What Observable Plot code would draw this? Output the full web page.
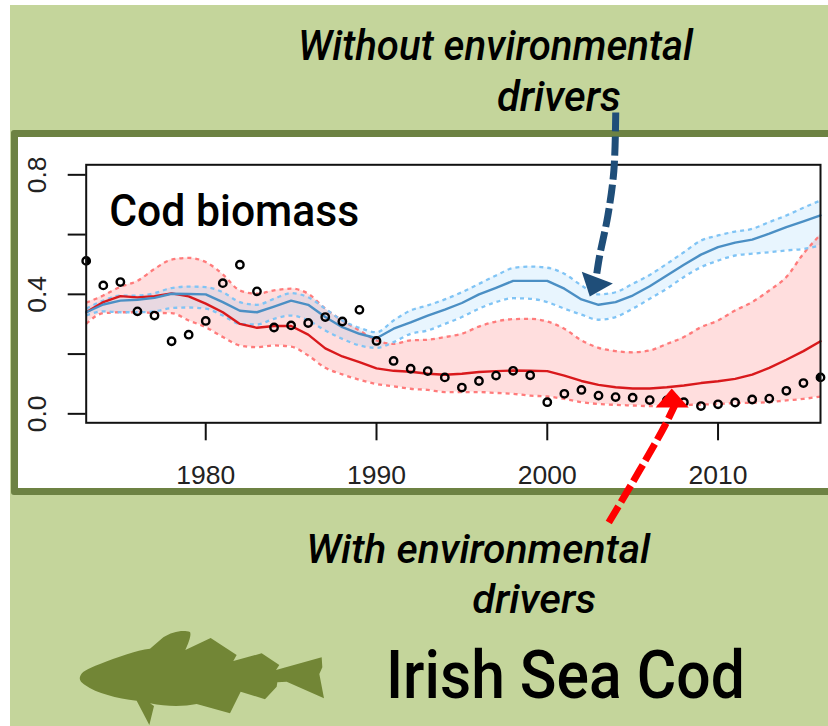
<!DOCTYPE html>
<html><head><meta charset="utf-8">
<script src="https://cdn.jsdelivr.net/npm/d3@7"></script>
<script src="https://cdn.jsdelivr.net/npm/@observablehq/plot@0.6"></script>
<style>
html,body{margin:0;padding:0;background:#fff;width:828px;height:726px;overflow:hidden}
#bg{position:absolute;left:10px;top:5px;width:818px;height:721px;background:#c4d59b}
#panel{position:absolute;left:10.5px;top:130px;width:830px;height:351px;background:#fff;border:7.5px solid #6d8243;border-radius:3px}
#fish{position:absolute;left:0;top:580px}
#chart{position:absolute;left:0;top:0}
#chart svg{background:transparent;display:block}
</style></head><body>
<div id="bg"></div><div id="panel"></div>
<svg id="fish" width="400" height="146" viewBox="0 0 1200 438"><path fill="#728636" d="M240 290C245 275 260 268 300 252C350 232 410 210 450 206L490 172C515 155 550 148 570 156C575 165 565 190 556 210L632 174L710 225L700 243L785 220L838 255L828 270L965 232L967 262L958 282L972 355L860 305L832 307L830 320L795 358L722 335L690 400L590 372C550 380 500 380 450 370L462 378L448 435L410 362C350 355 290 340 255 315C240 305 238 298 240 290Z"/></svg>
<div id="chart"></div>
<script>
const years = d3.range(1973, 2017);
const redMid = [.34,.374,.394,.39,.394,.403,.393,.369,.34,.301,.288,.294,.294,.265,.219,.192,.173,.152,.144,.141,.134,.131,.134,.14,.143,.145,.144,.143,.128,.11,.097,.089,.085,.085,.089,.095,.103,.109,.117,.131,.154,.181,.21,.243];
const redUp = [.372,.396,.425,.445,.485,.516,.522,.508,.467,.413,.402,.413,.419,.402,.352,.3125,.279,.246,.234,.246,.248,.257,.268,.292,.309,.317,.318,.309,.285,.246,.221,.21,.206,.212,.234,.257,.29,.3125,.346,.374,.413,.458,.536,.60];
const redLow = [.301,.337,.34,.34,.338,.337,.3125,.29,.257,.229,.223,.229,.225,.195,.154,.132,.114,.10,.092,.084,.08,.073,.073,.073,.07,.067,.061,.058,.05,.039,.033,.03,.028,.026,.028,.03,.031,.033,.036,.037,.039,.045,.05,.058];
const blueMid = [.34,.366,.379,.382,.388,.402,.401,.40,.374,.345,.34,.359,.379,.365,.324,.29,.268,.253,.285,.306,.329,.349,.371,.40,.422,.445,.445,.445,.419,.383,.365,.374,.396,.427,.463,.499,.533,.558,.573,.583,.603,.625,.644,.664];
const blueUp = [.352,.379,.396,.396,.404,.421,.426,.424,.407,.374,.365,.385,.404,.39,.352,.3125,.288,.273,.3125,.346,.363,.383,.407,.435,.463,.488,.493,.489,.469,.43,.40,.407,.435,.465,.502,.541,.58,.597,.61,.619,.642,.664,.69,.714];
const blueLow = [.329,.343,.34,.34,.343,.354,.356,.352,.329,.301,.299,.318,.329,.3125,.279,.251,.229,.221,.24,.268,.279,.301,.324,.352,.374,.387,.385,.374,.352,.332,.315,.324,.352,.385,.419,.458,.491,.513,.53,.536,.541,.547,.552,.564];
const observed = [.512,.43,.441,.343,.329,.243,.265,.311,.4375,.499,.41,.289,.296,.304,.324,.309,.348,.244,.177,.151,.143,.122,.088,.11,.128,.144,.129,.039,.067,.08,.061,.056,.054,.046,.045,.039,.026,.032,.038,.048,.051,.077,.103,.122];
const xTicks = [1980,1990,2000,2010];
const yTicks = [0,.2,.4,.6,.8];
const yLabelled = [0,.4,.8];
// annotation arrows, in chart units (year, biomass)
const blueArrowX = [2004.01,2003.9,2003.55,2003.07,2002.9];
const blueArrowY = [1.0085,.814,.664,.53,.47];
const blueHeadX = [2002.02,2003.84,2002.49];
const blueHeadY = [.476,.436,.393];
const redArrowX = [2003.6,2005.4,2006.88,2007.6];
const redArrowY = [-.364,-.19,-.04,.045];
const redHeadX = [2007.29,2006.35,2008.28];
const redHeadY = [.085,.021,.021];
const labelText = ["Cod biomass","Without environmental","drivers","With environmental","drivers","Irish Sea Cod"];
const labelX = [1974.35,1985.4,1997.05,1985.88,1995.6,1990.55];
const labelY = [.63,1.183,1.015,-.498,-.665,-.95];
const labelSize = [45,42,42,41,41,66];
const labelWidth = [250,395,124,344,123,359];
const labelItalic = [0,1,1,1,1,0];

const rows = years.map((year,i)=>({year,redMid:redMid[i],redUp:redUp[i],redLow:redLow[i],blueMid:blueMid[i],blueUp:blueUp[i],blueLow:blueLow[i],observed:observed[i]}));
const labels = labelText.map((t,i)=>({t,x:labelX[i],y:labelY[i],s:labelSize[i],it:labelItalic[i],w:labelWidth[i]}));
const pts=(xs,ys)=>xs.map((x,i)=>({x,y:ys[i]}));
const textMark=l=>Plot.text([l],{x:"x",y:"y",text:"t",textAnchor:"start",lineAnchor:"bottom",fontSize:l.s,fontFamily:"Roboto",fontStyle:l.it?"italic":"normal",fontWeight:500,fill:"#000"});
const dashed=(k,c)=>Plot.line(rows,{x:"year",y:k,stroke:c,strokeWidth:2.3,strokeDasharray:"4,4",strokeLinecap:"butt",curve:"monotone-x"});

const plot = Plot.plot({
  width:828,height:726,
  marginLeft:85.7,marginRight:8,marginTop:164.3,marginBottom:303.7,
  x:{domain:[1973,2016]},
  y:{domain:[-.03,.8336]},
  style:{background:"transparent",overflow:"visible"},
  marks:[
    Plot.areaY(rows,{x:"year",y1:"redLow",y2:"redUp",fill:"#ff0000",fillOpacity:.13,curve:"monotone-x"}),
    Plot.areaY(rows,{x:"year",y1:"blueLow",y2:"blueUp",fill:"#3fa9f5",fillOpacity:.12,curve:"monotone-x"}),
    dashed("redUp","#ff7b7b"),dashed("redLow","#ff7b7b"),dashed("blueUp","#80c4f5"),dashed("blueLow","#80c4f5"),
    Plot.line(rows,{x:"year",y:"redMid",stroke:"#d9191c",strokeWidth:2.4}),
    Plot.line(rows,{x:"year",y:"blueMid",stroke:"#4b8fc4",strokeWidth:2.4}),
    Plot.dot(rows,{x:"year",y:"observed",r:3.7,stroke:"#000",strokeWidth:2.4,fill:"none"}),
    Plot.dot(rows.filter(d=>d.year===1973||d.year===2016),{x:"year",y:"observed",r:4,fill:"#000",clip:"frame"}),
    Plot.frame({stroke:"#111",strokeWidth:2}),
    Plot.axisX(xTicks,{anchor:"bottom",tickSize:18,tickPadding:24,fontSize:26.5,fontFamily:"Liberation Sans",fill:"#222",stroke:"#111",strokeWidth:2,label:null,tickFormat:d=>String(d)}),
    Plot.axisY(yTicks,{anchor:"left",tickSize:18,tickPadding:22,tickRotate:-90,fontSize:26.5,fontFamily:"Liberation Sans",fill:"#222",stroke:"#111",strokeWidth:2,label:null,tickFormat:d=>yLabelled.includes(d)?d.toFixed(1):""}),
    Plot.line(pts(blueArrowX,blueArrowY),{x:"x",y:"y",stroke:"#1f4e79",strokeWidth:7,strokeDasharray:"19,5",strokeLinecap:"butt",curve:"catmull-rom"}),
    Plot.line(pts(blueHeadX,blueHeadY),{x:"x",y:"y",fill:"#1f4e79",stroke:"none"}),
    Plot.line(pts(redArrowX,redArrowY),{x:"x",y:"y",stroke:"#ff0000",strokeWidth:7,strokeDasharray:"19,5",strokeLinecap:"butt",curve:"catmull-rom"}),
    Plot.line(pts(redHeadX,redHeadY),{x:"x",y:"y",fill:"#ff0000",stroke:"none"}),
    ...labels.map(textMark)
  ]
});
d3.select(plot).selectAll("text").each(function(){
  const l=labels.find(l=>l.t===this.textContent);
  if(l){this.setAttribute("textLength",l.w);this.setAttribute("lengthAdjust","spacingAndGlyphs");}
});
document.getElementById("chart").append(plot);
</script></body></html>
